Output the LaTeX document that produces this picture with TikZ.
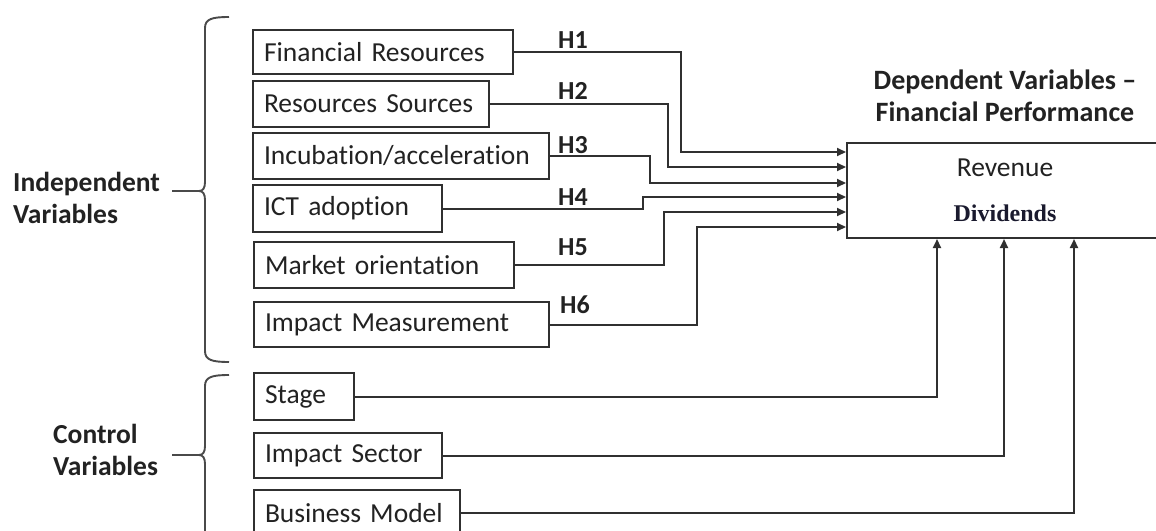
\documentclass[tikz,border=0pt]{standalone}
\usepackage{fontspec}
\setmainfont{Carlito}[Ligatures=NoCommon]
\newfontfamily\serifdiv{Liberation Serif}
\usetikzlibrary{arrows.meta}
\definecolor{txt}{HTML}{222222}
\definecolor{ln}{HTML}{303030}
\definecolor{brc}{HTML}{4A4A4A}
\definecolor{divc}{HTML}{1A1A2E}
\begin{document}
\begin{tikzpicture}[x=1pt,y=-1pt,
  box/.style={draw=ln, line width=2pt, rectangle, anchor=west, inner xsep=11pt, inner ysep=0pt,
    align=left, font=\fontsize{27.5}{30}\selectfont, text=txt},
  conn/.style={draw=ln, line width=2pt},
  arr/.style={conn, -{Triangle[length=9pt,width=8pt]}},
  brace/.style={draw=brc, line width=1.9pt},
  hlab/.style={font=\bfseries\fontsize{26}{28}\selectfont, text=txt, inner sep=0pt},
  grp/.style={anchor=west, align=left, font=\bfseries\fontsize{27.5}{32}\selectfont, text=txt, inner sep=0pt}]
\useasboundingbox (0,0) rectangle (1156,530);
\clip (0,0) rectangle (1156,530);
\fill[white] (0,0) rectangle (1156,530);

% independent variable boxes
\node[box, minimum height=44pt, text width=238pt] (fr)  at (252,52)    {Financial Resources};
\node[box, minimum height=46pt, text width=214pt] (rs)  at (252,104)   {Resources Sources};
\node[box, minimum height=46pt, text width=274pt] (ia)  at (252,156)   {Incubation/acceleration};
\node[box, minimum height=47pt, text width=167pt] (ict) at (252,208.5) {ICT adoption};
\node[box, minimum height=46pt, text width=238pt] (mo)  at (253,265)   {Market orientation};
\node[box, minimum height=45pt, text width=273pt] (im)  at (253,324.5) {Impact Measurement};
% control variable boxes
\node[box, minimum height=47pt, text width=78pt]  (st)  at (253,396.5) {Stage};
\node[box, minimum height=45pt, text width=166pt] (is)  at (253,455.5) {Impact Sector};
\node[box, minimum height=46pt, text width=184pt] (bm)  at (253,513)   {Business Model};

% dependent variable box
\node[align=center, font=\bfseries\fontsize{28}{32}\selectfont, text=txt] (dvh) at (1005,96)
  {Dependent Variables --\\Financial Performance};
\node[draw=ln, line width=2pt, minimum width=316pt, minimum height=95pt, inner sep=0pt,
  align=center, font=\fontsize{27.5}{45}\selectfont, text=txt] (rev) at (1005,190.5)
  {Revenue\\{\serifdiv\bfseries\fontsize{24}{45}\selectfont\color{divc}Dividends}};

% hypothesis labels
\node[hlab] (h1) at (573,40)  {H1};
\node[hlab] (h2) at (573,91)  {H2};
\node[hlab] (h3) at (573,145) {H3};
\node[hlab] (h4) at (573,197) {H4};
\node[hlab] (h5) at (573,247) {H5};
\node[hlab] (h6) at (575,305) {H6};

% connectors
\draw[arr] (fr.east)  -| (681,152) -- (rev.west |- 0,152);
\draw[arr] (rs.east)  -| (668,167) -- (rev.west |- 0,167);
\draw[arr] (ia.east)  -| (650,183) -- (rev.west |- 0,183);
\draw[arr] (ict.east) -| (643,197) -- (rev.west |- 0,197);
\draw[arr] (mo.east)  -| (664,212) -- (rev.west |- 0,212);
\draw[arr] (im.east)  -| (697,227) -- (rev.west |- 0,227);
\draw[arr] (st.east)  -| (rev.south -| 937,0);
\draw[arr] (is.east)  -| (rev.south -| 1004,0);
\draw[arr] (bm.east)  -| (rev.south -| 1074,0);

% group labels and braces
\node[grp] (indep) at (13,198) {Independent\\Variables};
\node[grp] (ctrl)  at (53,450) {Control\\Variables};
\coordinate (tip1) at (199,191);
\coordinate (tip2) at (199,455);
\draw[brace] (229,17) .. controls (212,17) and (205,19) .. (205,28) -- (205,182)
  .. controls (205,188) and (203,191) .. (tip1)
  .. controls (203,191) and (205,194) .. (205,200) -- (205,351)
  .. controls (205,360) and (212,362) .. (229,362);
\draw[brace] (229,375) .. controls (212,375) and (205,377) .. (205,386) -- (205,446)
  .. controls (205,452) and (203,455) .. (tip2)
  .. controls (203,455) and (205,458) .. (205,464) -- (205,545);
\draw[brace] ([xshift=12pt]indep.east |- tip1) -- (tip1);
\draw[brace] ([xshift=14pt]ctrl.east |- tip2) -- (tip2);
\end{tikzpicture}
\end{document}
